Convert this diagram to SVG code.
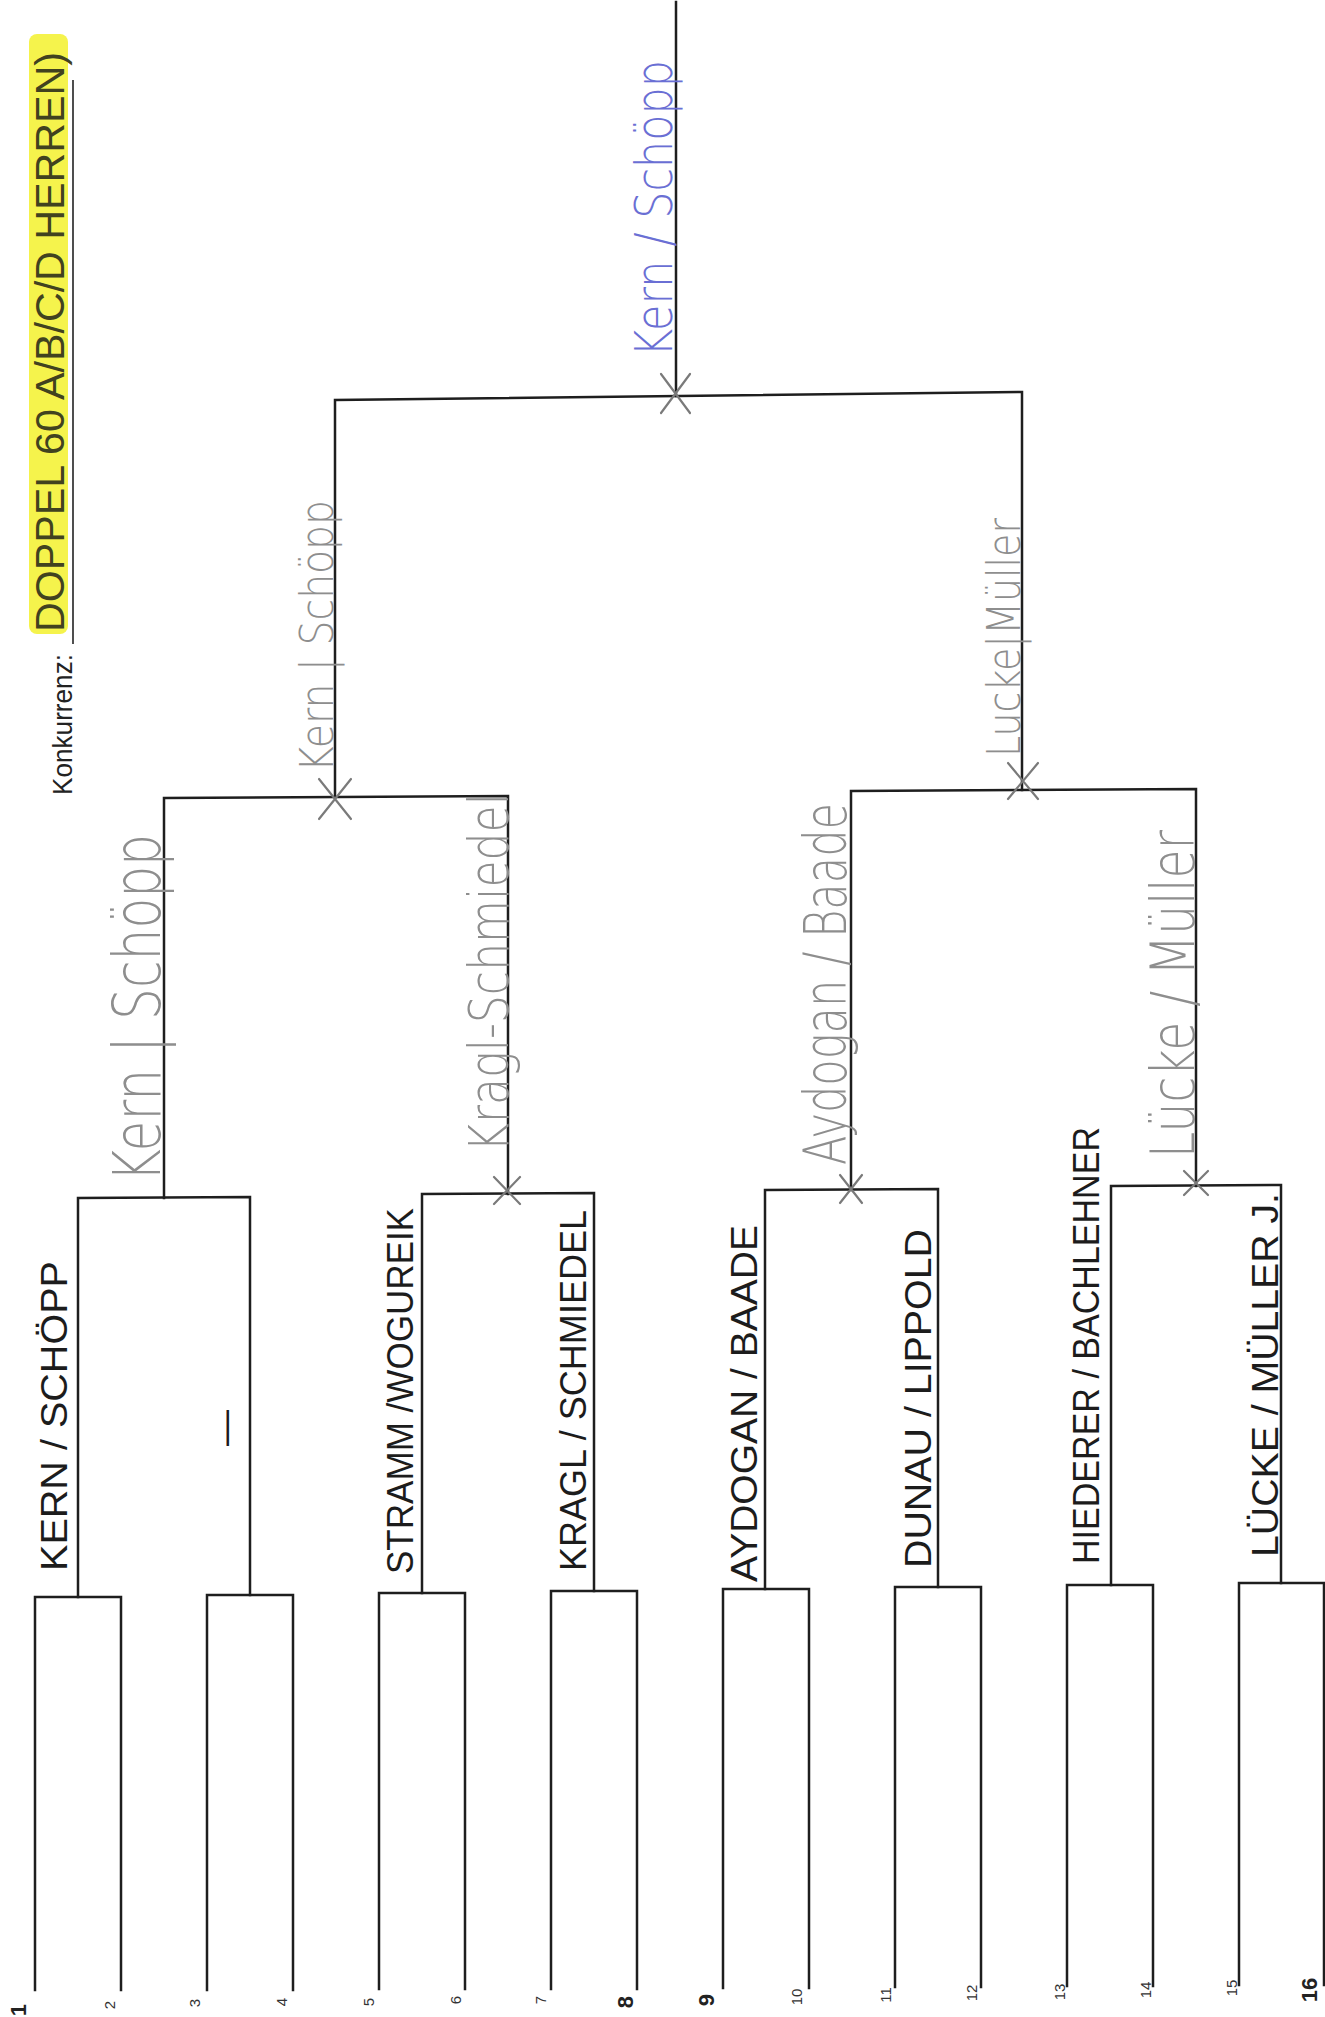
<svg xmlns="http://www.w3.org/2000/svg" width="1325" height="2017" viewBox="0 0 1325 2017">
<style>
.ln{fill:none;stroke:#1e1e1e;stroke-width:2.5;stroke-linecap:square;stroke-linejoin:miter}
.xm{fill:none;stroke:#7a7a7a;stroke-width:2.2;stroke-linecap:round}
.nm{font-family:"Liberation Sans",Arial,sans-serif;font-size:36px;fill:#1c1c1c}
.pn{font-family:"DejaVu Sans","Liberation Sans",sans-serif;font-weight:200;fill:#8e8e8e}
.num{font-family:"Liberation Sans",Arial,sans-serif;font-size:15px;fill:#333;text-anchor:middle}
.numb{font-family:"Liberation Sans",Arial,sans-serif;font-size:22px;font-weight:bold;fill:#222;text-anchor:middle}
</style>
<rect width="1325" height="2017" fill="#ffffff"/>

<g id="title">
<rect x="29" y="34" width="39" height="600" rx="8" fill="#f5f34c"/>
<line x1="73" y1="80" x2="73" y2="644" stroke="#222" stroke-width="1.6"/>
<text transform="translate(64,632) rotate(-90)" font-family="Liberation Sans, Arial, sans-serif" font-size="40" fill="#41421f" textLength="580" lengthAdjust="spacingAndGlyphs">DOPPEL 60 A/B/C/D HERREN)</text>
<text transform="translate(72,795) rotate(-90)" font-family="Liberation Sans, Arial, sans-serif" font-size="28" fill="#222" textLength="141" lengthAdjust="spacingAndGlyphs">Konkurrenz:</text>
</g>

<g id="connectors">
<path class="ln" d="M35,1990 V1597 H121 V1990"/>
<path class="ln" d="M207,1990 V1595 H293 V1990"/>
<path class="ln" d="M379,1989 V1593 H465 V1989"/>
<path class="ln" d="M551,1989 V1591 H637 V1989"/>
<path class="ln" d="M723,1988 V1589 H809 V1988"/>
<path class="ln" d="M895,1987 V1587 H981 V1987"/>
<path class="ln" d="M1067,1986 V1585 H1153 V1986"/>
<path class="ln" d="M1239,1985 V1583 H1324 V1985"/>
<path class="ln" d="M78,1597 V1198 L250,1197 V1595"/>
<path class="ln" d="M422,1593 V1194 L594,1193 V1591"/>
<path class="ln" d="M765,1589 V1190 L938,1189 V1587"/>
<path class="ln" d="M1111,1585 V1186 L1281,1185 V1583"/>
<path class="ln" d="M164,1198 V798 L508,796 V1194"/>
<path class="ln" d="M851,1190 V791 L1196,789 V1186"/>
<path class="ln" d="M335,797 V400 L1022,392 V790"/>
<path class="ln" d="M676,396 V2"/>
</g>

<g id="marks">
<path class="xm" d="M661,374 L690,413 M690,374 L661,413" stroke="#555"/>
<path class="xm" d="M319,779 L351,819 M351,779 L319,819"/>
<path class="xm" d="M1008,763 L1038,799 M1038,763 L1008,799"/>
<path class="xm" d="M494,1177 L520,1204 M520,1177 L494,1204"/>
<path class="xm" d="M840,1175 L862,1203 M862,1175 L840,1203"/>
<path class="xm" d="M1184,1171 L1208,1195 M1208,1171 L1184,1195"/>
</g>

<g id="slot-numbers">
<text class="numb" transform="translate(26,2010) rotate(-90)">1</text>
<text class="num" transform="translate(115,2005) rotate(-90)">2</text>
<text class="num" transform="translate(200,2003) rotate(-90)">3</text>
<text class="num" transform="translate(287,2002) rotate(-90)">4</text>
<text class="num" transform="translate(374,2002) rotate(-90)">5</text>
<text class="num" transform="translate(461,2000) rotate(-90)">6</text>
<text class="num" transform="translate(546,2000) rotate(-90)">7</text>
<text class="numb" transform="translate(633,2002) rotate(-90)">8</text>
<text class="numb" transform="translate(714,2000) rotate(-90)">9</text>
<text class="num" transform="translate(802,1997) rotate(-90)">10</text>
<text class="num" transform="translate(891,1995) rotate(-90)">11</text>
<text class="num" transform="translate(977,1993) rotate(-90)">12</text>
<text class="num" transform="translate(1065,1992) rotate(-90)">13</text>
<text class="num" transform="translate(1151,1990) rotate(-90)">14</text>
<text class="num" transform="translate(1237,1988) rotate(-90)">15</text>
<text class="numb" transform="translate(1317,1990) rotate(-90)">16</text>
</g>

<g id="round1">
<text class="nm" transform="translate(67,1571) rotate(-90)" textLength="310" lengthAdjust="spacingAndGlyphs">KERN / SCHÖPP</text>
<text class="nm" transform="translate(237,1446) rotate(-90)" font-size="50">—</text>
<text class="nm" transform="translate(413,1574) rotate(-90)" textLength="366" lengthAdjust="spacingAndGlyphs">STRAMM /WOGUREIK</text>
<text class="nm" transform="translate(586,1571) rotate(-90)" textLength="361" lengthAdjust="spacingAndGlyphs">KRAGL / SCHMIEDEL</text>
<text class="nm" transform="translate(757,1582) rotate(-90)" textLength="357" lengthAdjust="spacingAndGlyphs">AYDOGAN / BAADE</text>
<text class="nm" transform="translate(931,1568) rotate(-90)" textLength="339" lengthAdjust="spacingAndGlyphs">DUNAU / LIPPOLD</text>
<text class="nm" transform="translate(1099,1564) rotate(-90)" textLength="437" lengthAdjust="spacingAndGlyphs">HIEDERER / BACHLEHNER</text>
<text class="nm" transform="translate(1278,1557) rotate(-90)" textLength="364" lengthAdjust="spacingAndGlyphs">LÜCKE / MÜLLER J.</text>
</g>

<g id="round2">
<text class="pn" transform="translate(160,1182) rotate(-90)" font-size="66" textLength="348" lengthAdjust="spacingAndGlyphs">Kern | Schöpp</text>
<text class="pn" transform="translate(508,1152) rotate(-90)" font-size="56" textLength="359" lengthAdjust="spacingAndGlyphs">Kragl-Schmiedel</text>
<text class="pn" transform="translate(846,1165) rotate(-90)" font-size="58" textLength="362" lengthAdjust="spacingAndGlyphs">Aydogan / Baade</text>
<text class="pn" transform="translate(1194,1158) rotate(-90)" font-size="60" textLength="328" lengthAdjust="spacingAndGlyphs">Lücke / Müller</text>
</g>

<g id="round3">
<text class="pn" transform="translate(333,772) rotate(-90)" font-size="46" textLength="272" lengthAdjust="spacingAndGlyphs">Kern | Schöpp</text>
<text class="pn" transform="translate(1020,757) rotate(-90)" font-size="46" textLength="239" lengthAdjust="spacingAndGlyphs">Lucke|Müller</text>
</g>

<g id="winner">
<text class="pn" transform="translate(672,357) rotate(-90)" font-size="52" fill="#6a6fd4" style="fill:#6a6fd4" textLength="297" lengthAdjust="spacingAndGlyphs">Kern / Schöpp</text>
</g>
</svg>
